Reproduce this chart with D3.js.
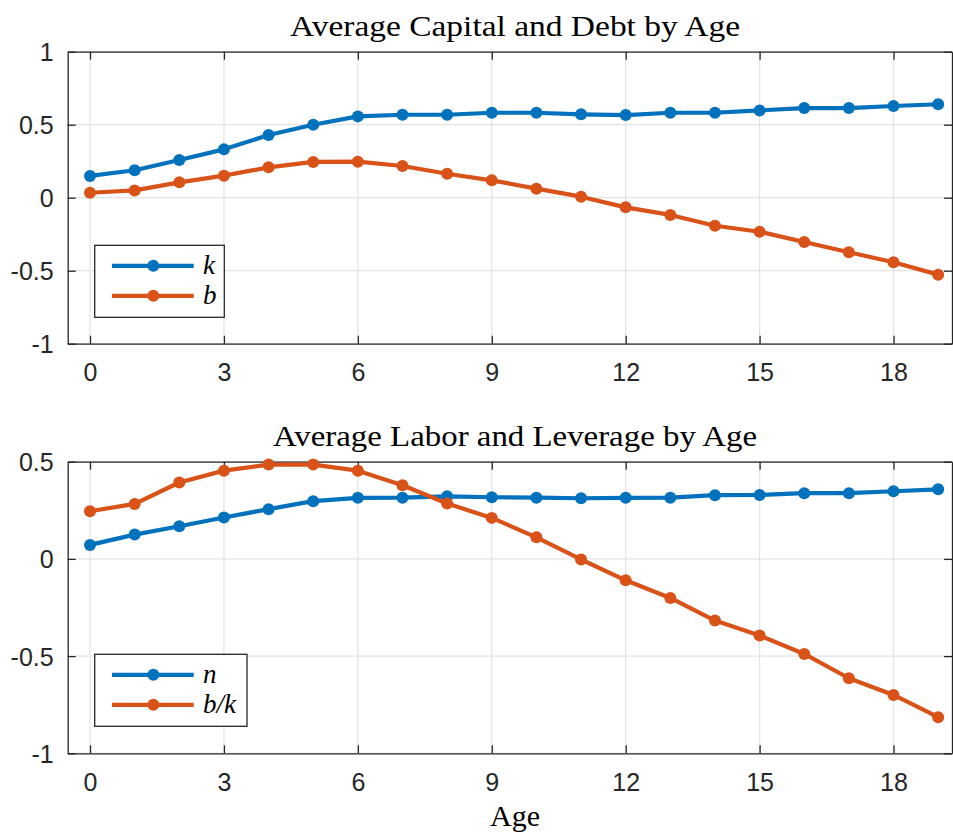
<!DOCTYPE html>
<html>
<head>
<meta charset="utf-8">
<script src="https://cdn.jsdelivr.net/npm/d3@7"></script>
<style>
body { margin: 0; background: #fff; }
svg { display: block; }
.tick text { font-family: "Liberation Sans", Arial, sans-serif; font-size: 25px; fill: #262626; }
</style>
</head>
<body>
<svg id="chart" width="953" height="836"></svg>
<script>
var ages = d3.range(0, 20);
var xTicks = [0, 3, 6, 9, 12, 15, 18];

// top panel
var capital = [0.149, 0.188, 0.258, 0.331, 0.429, 0.500, 0.557, 0.568, 0.568, 0.582,
	0.582, 0.571, 0.566, 0.582, 0.582, 0.598, 0.614, 0.614, 0.628, 0.640];
var debt = [0.034, 0.050, 0.105, 0.151, 0.208, 0.245, 0.247, 0.217, 0.164, 0.119,
	0.062, 0.007, -0.066, -0.118, -0.192, -0.233, -0.303, -0.374, -0.442, -0.527];
var topTicks = [-1, -0.5, 0, 0.5, 1];

// bottom panel
var labor = [0.072, 0.125, 0.168, 0.213, 0.256, 0.297, 0.314, 0.315, 0.322, 0.317,
	0.315, 0.312, 0.314, 0.315, 0.328, 0.329, 0.338, 0.338, 0.348, 0.358];
var leverage = [0.245, 0.283, 0.393, 0.454, 0.485, 0.485, 0.454, 0.379, 0.285, 0.211,
	0.111, -0.003, -0.110, -0.201, -0.317, -0.394, -0.489, -0.614, -0.700, -0.814];
var bottomTicks = [-1, -0.5, 0, 0.5];

var blue = "#0072BD", orange = "#D95319";
var serif = "'Liberation Serif', 'DejaVu Serif', serif";
var svg = d3.select("#chart");

function panel(opt) {
	var g = svg.append("g");
	var x = d3.scaleLinear().domain([-0.5, 19.31]).range([67.7, 952]);
	var y = d3.scaleLinear().domain(opt.ydomain).range([opt.bottom, opt.top]);

	// grid
	g.append("g").selectAll("line").data(xTicks).enter().append("line")
		.attr("x1", d => x(d)).attr("x2", d => x(d))
		.attr("y1", opt.top).attr("y2", opt.bottom)
		.attr("stroke", "#e3e3e3").attr("stroke-width", 1.2);
	g.append("g").selectAll("line").data(opt.yticks).enter().append("line")
		.attr("x1", x.range()[0]).attr("x2", x.range()[1])
		.attr("y1", d => y(d)).attr("y2", d => y(d))
		.attr("stroke", "#e3e3e3").attr("stroke-width", 1.2);

	// axes, ticks inside like the original
	g.append("g").attr("transform", "translate(0," + opt.bottom + ")")
		.call(d3.axisBottom(x).tickValues(xTicks).tickSizeInner(-8).tickSizeOuter(0).tickPadding(20));
	var ay = g.append("g").attr("transform", "translate(" + x.range()[0] + ",0)")
		.call(d3.axisLeft(y).tickValues(opt.yticks).tickSizeInner(-8).tickSizeOuter(0).tickPadding(14));
	g.append("g").attr("transform", "translate(0," + opt.top + ")")
		.call(d3.axisTop(x).tickValues(xTicks).tickSizeInner(-8).tickSizeOuter(0).tickFormat(""));
	g.append("g").attr("transform", "translate(" + x.range()[1] + ",0)")
		.call(d3.axisRight(y).tickValues(opt.yticks).tickSizeInner(-8).tickSizeOuter(0).tickFormat(""));
	g.selectAll(".domain").attr("stroke", "#262626").attr("stroke-width", 1.3);
	g.selectAll(".tick line").attr("stroke", "#262626").attr("stroke-width", 1.3);
	ay.selectAll(".tick text").text(d => String(d)).attr("dy", "0.36em");

	// series
	var line = d3.line().x((d, i) => x(ages[i])).y(d => y(d));
	opt.series.forEach(function(s) {
		g.append("path").datum(s.values).attr("d", line)
			.attr("fill", "none").attr("stroke", s.color).attr("stroke-width", 4.2)
			.attr("stroke-linejoin", "round");
		g.append("g").selectAll("circle").data(s.values).enter().append("circle")
			.attr("cx", (d, i) => x(ages[i])).attr("cy", d => y(d)).attr("r", 6)
			.attr("fill", s.color);
	});

	// title
	g.append("text").attr("x", 515).attr("y", opt.top - 16)
		.attr("text-anchor", "middle").attr("font-family", serif)
		.attr("font-size", 30).attr("fill", "#000")
		.attr("textLength", opt.titleW).attr("lengthAdjust", "spacingAndGlyphs")
		.text(opt.title);

	// legend
	var lg = g.append("g");
	lg.append("rect").attr("x", 94.7).attr("y", opt.legTop)
		.attr("width", opt.legW).attr("height", 72)
		.attr("fill", "#fff").attr("stroke", "#262626").attr("stroke-width", 1.3);
	opt.series.forEach(function(s, i) {
		var ly = opt.legTop + 20.5 + i * 30;
		lg.append("line").attr("x1", 112).attr("x2", 193.7).attr("y1", ly).attr("y2", ly)
			.attr("stroke", s.color).attr("stroke-width", 4.2);
		lg.append("circle").attr("cx", 153.3).attr("cy", ly).attr("r", 6).attr("fill", s.color);
		lg.append("text").attr("x", 203).attr("y", ly + 8)
			.attr("font-family", serif)
			.attr("font-style", "italic").attr("font-size", 27).attr("fill", "#000").text(s.name);
	});
	return g;
}

panel({
	top: 51.7, bottom: 343.7, ydomain: [-1, 1], yticks: topTicks,
	title: "Average Capital and Debt by Age", titleW: 450, legTop: 245.3, legW: 129.6,
	series: [{name: "k", values: capital, color: blue}, {name: "b", values: debt, color: orange}]
});
panel({
	top: 461.7, bottom: 753.3, ydomain: [-1, 0.5], yticks: bottomTicks,
	title: "Average Labor and Leverage by Age", titleW: 484, legTop: 654.3, legW: 152.3,
	series: [{name: "n", values: labor, color: blue}, {name: "b/k", values: leverage, color: orange}]
});

svg.append("text").attr("x", 515).attr("y", 826)
	.attr("text-anchor", "middle").attr("font-family", serif)
	.attr("font-size", 30).attr("fill", "#000")
	.attr("textLength", 50).attr("lengthAdjust", "spacingAndGlyphs").text("Age");
</script>
</body>
</html>
